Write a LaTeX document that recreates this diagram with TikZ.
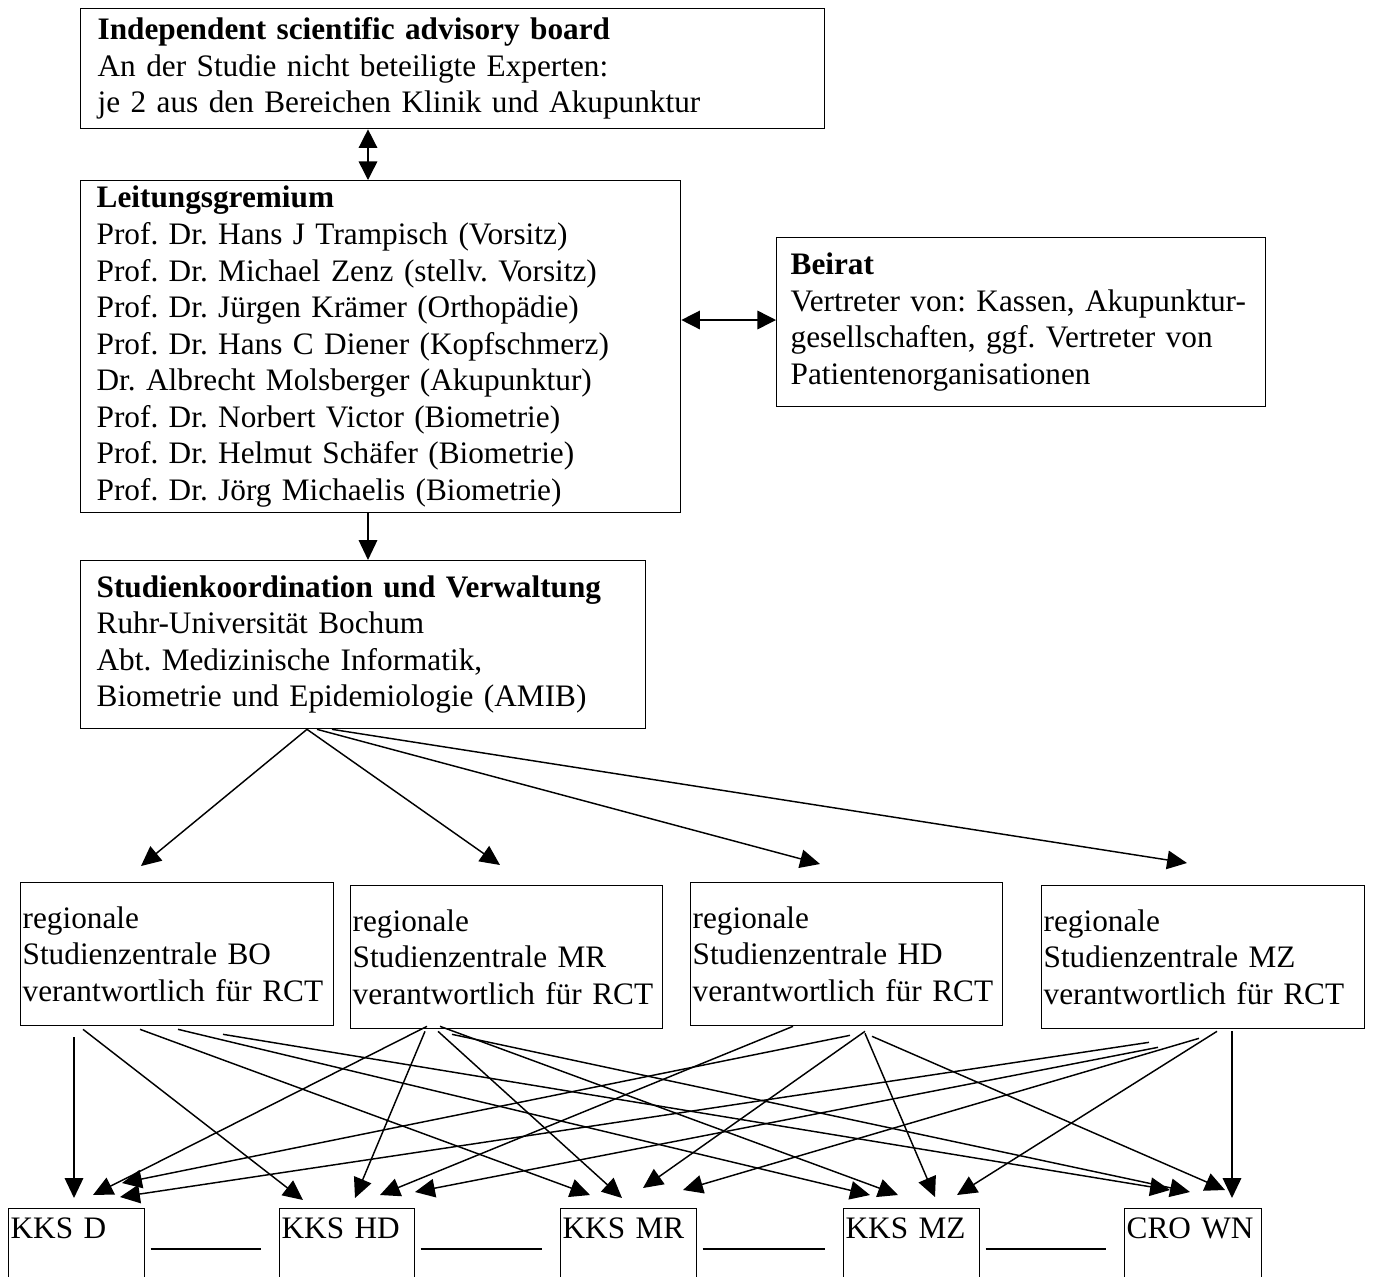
\documentclass[tikz,border=0pt]{standalone}
\usepackage{fontspec}
\setmainfont{Liberation Serif}
\usetikzlibrary{arrows.meta,calc}
\newdimen\pu \pu=0.3774pt
\frenchspacing
\tikzset{box/.style={draw,line width=.5pt,anchor=north west,align=left,inner ysep=0pt},
 kks/.style={box,inner xsep=2\pu,inner ysep=1\pu,text height=29\pu,text depth=60\pu},
 arr/.style={-{Triangle[length=7.5pt,width=7pt]},line width=.55pt},
 arrb/.style={{Triangle[length=7pt,width=7pt]}-{Triangle[length=7pt,width=7pt]},line width=.55pt},
 link/.style={line width=.55pt,shorten <=2pt,shorten >=6.8pt},
 every node/.style={font=\fontsize{11.8pt}{13.8pt}\selectfont}}
\begin{document}
\begin{tikzpicture}[x=\pu,y=-\pu]
\clip (0,0) rectangle (1373,1276);
% oberer Teil
\node[box,inner xsep=17\pu,text width=710\pu,minimum height=120\pu] (adv) at (80,8)
 {\textbf{Independent scientific advisory board}\\An der Studie nicht beteiligte Experten:\\je 2 aus den Bereichen Klinik und Akupunktur};
\node[box,inner xsep=16\pu,text width=568\pu,minimum height=332\pu] (lg) at (80,180)
 {\textbf{Leitungsgremium}\\Prof. Dr. Hans J Trampisch (Vorsitz)\\Prof. Dr. Michael Zenz (stellv. Vorsitz)\\
 Prof. Dr. Jürgen Krämer (Orthopädie)\\Prof. Dr. Hans C Diener (Kopfschmerz)\\Dr. Albrecht Molsberger (Akupunktur)\\
 Prof. Dr. Norbert Victor (Biometrie)\\Prof. Dr. Helmut Schäfer (Biometrie)\\Prof. Dr. Jörg Michaelis (Biometrie)};
\node[box,inner xsep=14\pu,text width=461\pu,minimum height=169\pu] (br) at (776,237)
 {\textbf{Beirat}\\Vertreter~von:~Kassen,~Akupunktur-\\gesellschaften, ggf. Vertreter von\\Patientenorganisationen};
\node[box,inner xsep=16\pu,text width=533\pu,minimum height=168\pu] (sk) at (80,560)
 {\textbf{Studienkoordination und Verwaltung}\\Ruhr-Universität Bochum\\Abt. Medizinische Informatik,\\Biometrie und Epidemiologie (AMIB)};
\draw[arrb] ($(adv.south west)+(288,0)$) -- ($(lg.north west)+(288,0)$);
\draw[arrb] ($(lg.north east)+(0,140)$) -- ($(br.north west)+(0,83)$);
\draw[arr] ($(lg.south west)+(288,0)$) -- ($(sk.north west)+(288,0)$);
% regionale Zentralen
\foreach \n/\x/\y/\w/\c in {bo/20/882/309/BO,mr/350/885/308/MR,hd/690/882/308/HD,mz/1041/885/319/MZ}
 \node[box,inner xsep=2\pu,text width=\w\pu,minimum height=143\pu] (\n) at (\x,\y)
 {regionale\\Studienzentrale \c\\verantwortlich für RCT};
\foreach \dst/\dx/\dy/\sx in {bo/121/-16/227,mr/150/-20/227,hd/130/-18/237,mz/146/-22/252}
 \draw[arr] ($(sk.south west)+(\sx,0)$) -- ($(\dst.north west)+(\dx,\dy)$);
% KKS
\foreach \n/\x/\w/\c in {kd/8/132/KKS D,khd/279/131/KKS HD,kmr/560/132/KKS MR,kmz/843/132/KKS MZ,cwn/1124/133/CRO WN}
 \node[kks,text width=\w\pu] (\n) at (\x,1208) {\c};
\foreach \lt/\rt in {kd/khd,khd/kmr,kmr/kmz,kmz/cwn}
 \draw[link] ($(\lt.north east)+(0,41)$) -- ($(\rt.north west)+(0,41)$);
\foreach \src/\sx/\sy/\dst/\dx/\dy in {
 bo/54/11/kd/66/-10,bo/63/3/khd/24/-8,bo/120/3/kmr/30/-13,bo/158/3/kmz/27/-13,bo/203/8/cwn/46/-18,
 mr/77/-3/kd/85/-13,mr/75/2/khd/76/-10,mr/88/2/kmr/62/-10,mr/90/-3/kmz/55/-13,mr/102/5/cwn/66/-16,
 hd/160/9/kd/114/-25,hd/103/0/khd/101/-13,hd/175/5/kmr/83/-20,hd/175/7/kmz/92/-11,hd/182/10/cwn/101/-18,
 mz/108/13/kd/112/-11,mz/117/18/khd/136/-16,mz/158/9/kmr/123/-18,mz/176/2/kmz/114/-13,mz/191/2/cwn/108/-10}
 \draw[arr] ($(\src.south west)+(\sx,\sy)$) -- ($(\dst.north west)+(\dx,\dy)$);
\end{tikzpicture}
\end{document}
